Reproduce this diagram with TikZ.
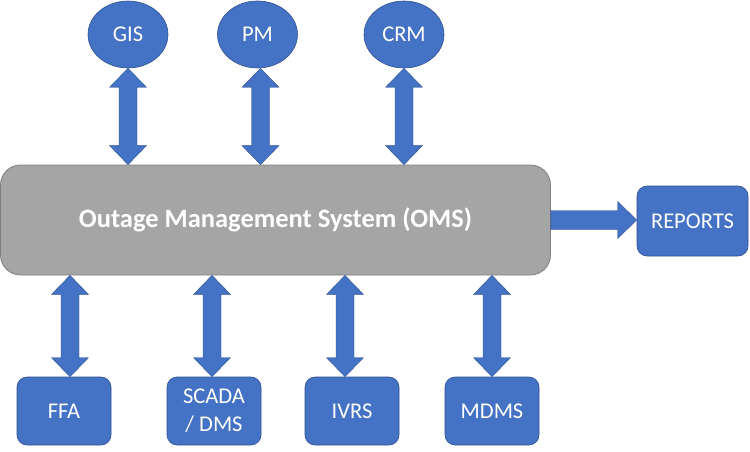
\documentclass[tikz,border=0pt]{standalone}
\usepackage{fontspec}
\setmainfont{Carlito}
\usetikzlibrary{calc}
\definecolor{oblue}{HTML}{4472C4}
\definecolor{oline}{HTML}{2F528F}
\definecolor{ogray}{HTML}{A5A5A5}
\definecolor{ogline}{HTML}{7F7F7F}
\tikzset{
  ell/.style={ellipse, fill=oblue, draw=oline, line width=0.6pt, minimum width=80pt, minimum height=67pt, inner sep=0pt, text=white, font=\fontsize{22.5}{27}\selectfont},
  sbox/.style={rectangle, rounded corners=10pt, fill=oblue, draw=oline, line width=0.6pt, minimum width=94pt, minimum height=68pt, inner sep=0pt, text=white, align=center, font=\fontsize{22.5}{28}\selectfont},
  omsbox/.style={rectangle, rounded corners=20pt, fill=ogray, draw=ogline, line width=0.8pt, minimum width=550pt, minimum height=110pt, inner sep=0pt, text=white, font=\bfseries\fontsize{26.5}{30}\selectfont},
  fatarrow/.style={fill=oblue, draw=oline, line width=0.4pt}
}
\usetikzlibrary{shapes.geometric}
\newcommand\vdbl[2]{%
\path[fatarrow] let \p1=(#1), \p2=(#2) in
 (\x1,\y1) -- (\x1+18.5pt,\y1-19pt) -- (\x1+9pt,\y1-19pt) -- (\x1+9pt,\y2+19pt) -- (\x1+18.5pt,\y2+19pt) -- (\x1,\y2) -- (\x1-18.5pt,\y2+19pt) -- (\x1-9pt,\y2+19pt) -- (\x1-9pt,\y1-19pt) -- (\x1-18.5pt,\y1-19pt) -- cycle;}
\begin{document}
\begin{tikzpicture}[x=1pt,y=-1pt]
\useasboundingbox (0,0) rectangle (750,452);
\node[omsbox] (oms) at (275.5,220) {Outage Management System (OMS)};
\node[ell] (gis) at (128,34.5) {GIS};
\node[ell] (pm) at (257.5,34.5) {PM};
\node[ell] (crm) at (404,34.5) {CRM};
\node[sbox, minimum width=111pt, minimum height=70pt] (rep) at (692.5,221) {REPORTS};
\node[sbox] (ffa) at (64,411) {FFA};
\node[sbox] (scada) at (214,411) {SCADA\\/ DMS};
\node[sbox] (ivrs) at (352,411) {IVRS};
\node[sbox] (mdms) at (492,411) {MDMS};
% top arrows
\vdbl{gis.south}{gis.south |- oms.north}
\coordinate (pmtop) at ([xshift=3pt]pm.south);
\vdbl{pmtop}{pmtop |- oms.north}
\vdbl{crm.south}{crm.south |- oms.north}
% bottom arrows
\coordinate (ffatop) at ([xshift=6pt]ffa.north);
\vdbl{ffatop |- oms.south}{ffatop}
\coordinate (scadatop) at ([xshift=-2pt]scada.north);
\vdbl{scadatop |- oms.south}{scadatop}
\coordinate (ivrstop) at ([xshift=-7pt]ivrs.north);
\vdbl{ivrstop |- oms.south}{ivrstop}
\vdbl{mdms.north |- oms.south}{mdms.north}
% report arrow
\path[fatarrow] let \p1=(oms.east), \p2=(rep.west) in
 (\x1,\y1+9.5pt) -- (\x2-19pt,\y1+9.5pt) -- (\x2-19pt,\y1+18.5pt) -- (\x2,\y1) -- (\x2-19pt,\y1-18.5pt) -- (\x2-19pt,\y1-9.5pt) -- (\x1,\y1-9.5pt) -- cycle;
\end{tikzpicture}
\end{document}
